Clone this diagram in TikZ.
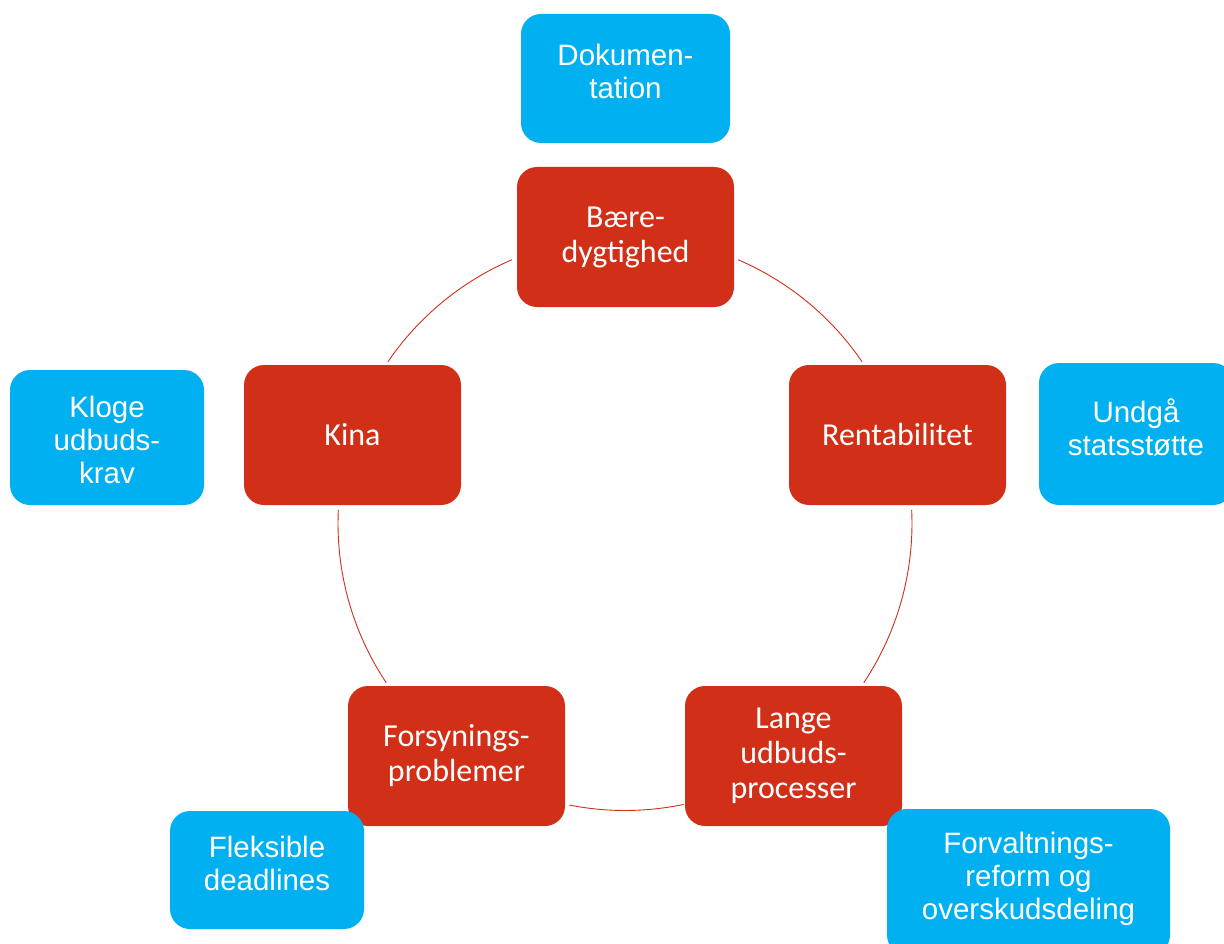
\documentclass[tikz,border=0pt]{standalone}
\usepackage{fontspec}
\setmainfont{Carlito}
\newfontfamily\arialf{Liberation Sans}
\usetikzlibrary{calc}
\definecolor{boxred}{RGB}{209,47,23}
\definecolor{boxblue}{RGB}{0,176,240}
\tikzset{
  redbox/.style={fill=boxred, draw=none, rounded corners=20pt, minimum width=217pt, minimum height=140pt,
    text=white, align=center, font=\fontsize{32}{35}\selectfont, inner sep=0pt},
  bluebox/.style={fill=boxblue, draw=none, rounded corners=20pt, text=white, inner sep=0pt},
  bluetext/.style={text=white, align=center, font=\arialf\fontsize{29.5}{33}\selectfont, inner sep=0pt},
  ring/.style={draw=boxred, line width=0.9pt},
}
\begin{document}
\begin{tikzpicture}[x=1pt,y=-1pt]
\useasboundingbox[fill=white] (0,0) rectangle (1224,944);
\coordinate (c) at (625,523.5);
% ring arcs
\draw[ring] ($(c)+(-145.7:287)$) arc[start angle=-145.7, end angle=-113.2, radius=287];
\draw[ring] ($(c)+(-66.8:287)$) arc[start angle=-66.8, end angle=-34.3, radius=287];
\draw[ring] ($(c)+(-2.7:287)$) arc[start angle=-2.7, end angle=33.7, radius=287];
\draw[ring] ($(c)+(78.2:287)$) arc[start angle=78.2, end angle=101.2, radius=287];
\draw[ring] ($(c)+(146.3:287)$) arc[start angle=146.3, end angle=182.7, radius=287];
% red boxes
\node[redbox] (baere) at (625.5,237) {Bære-\\dygtighed};
\node[redbox] (kina) at (352.5,435) {Kina};
\node[redbox] (rent) at (897.5,435) {Rentabilitet};
\node[redbox] (forsyn) at (456.5,756) {Forsynings-\\problemer};
\node[redbox] (lange) at (793.5,756) {Lange\\udbuds-\\processer};
% blue boxes
\node[bluebox, minimum width=209pt, minimum height=129pt] (dok) at (625.5,78.5) {};
\node[bluetext] (doktxt) at (625.5,71) {Dokumen-\\tation};
\node[bluebox, minimum width=194pt, minimum height=135pt] (kloge) at (107,437.5) {};
\node[bluetext] (klogetxt) at (107,440) {Kloge\\udbuds-\\krav};
\node[bluebox, minimum width=194pt, minimum height=142pt] (undga) at (1136,434) {};
\node[bluetext] (undgatxt) at (1136,427) {Undgå\\statsstøtte};
\node[bluebox, minimum width=194pt, minimum height=118pt] (fleks) at (267,870) {};
\node[bluetext] (flekstxt) at (267,863.5) {Fleksible\\deadlines};
\node[bluebox, minimum width=283pt, minimum height=146pt] (forv) at (1028.5,882) {};
\node[bluetext] (forvtxt) at (1028.5,879) {Forvaltnings-\\reform og\\overskudsdeling};
\end{tikzpicture}
\end{document}
